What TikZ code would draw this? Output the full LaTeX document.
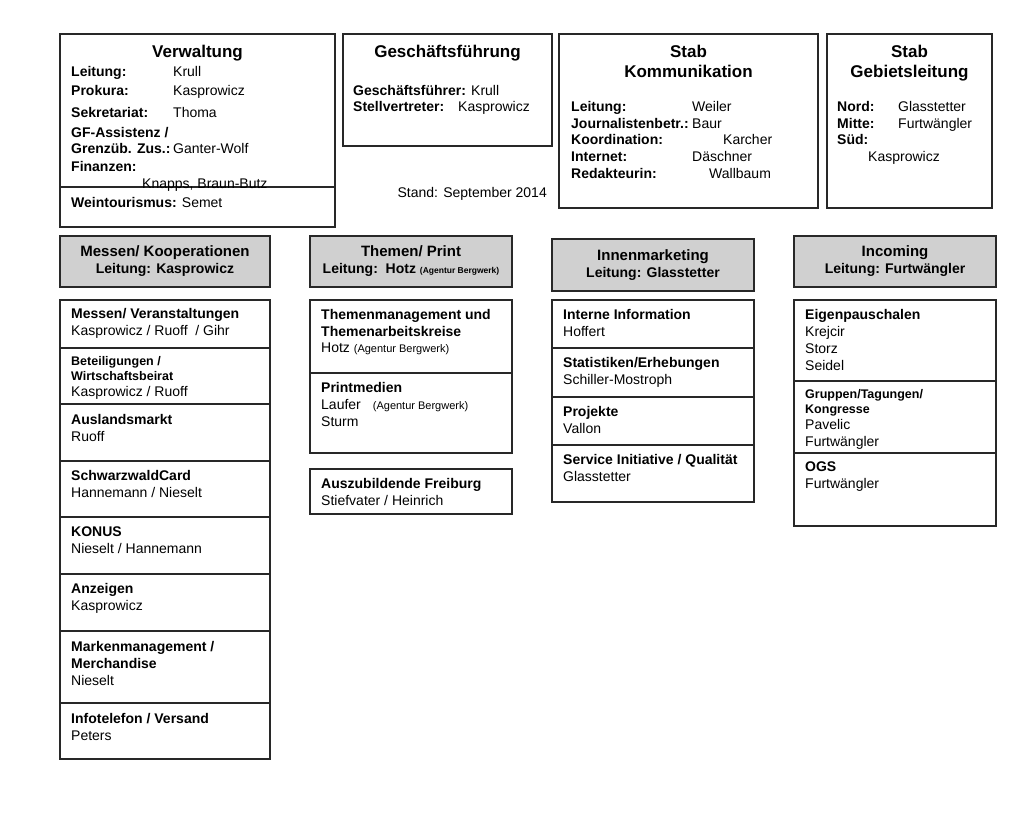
\documentclass[tikz,border=0pt]{standalone}
\usepackage{fontspec}
\setmainfont{Liberation Sans}
\usetikzlibrary{positioning}
\definecolor{headgray}{RGB}{208,208,208}
\definecolor{rulegray}{RGB}{40,40,40}
\newcommand\smallbf{\fontsize{12.5}{15}\selectfont\bfseries}
\newcommand\agentur{\fontsize{11}{13}\selectfont}
\tikzset{
  unitbox/.style={draw=rulegray,line width=1.3pt,anchor=north west,inner sep=0pt,outer sep=0pt,
    minimum width=#1},
  unitbox/.default=202pt,
  hdbox/.style={unitbox=#1,fill=headgray,line width=1.7pt,minimum height=51pt,align=center,
    font=\fontsize{14}{17}\selectfont\bfseries},
  hdbox/.default=202pt,
  txt/.style={inner sep=0pt,align=left,font=\fontsize{14}{17}\selectfont},
  ttl/.style={inner sep=0pt,align=center,font=\fontsize{17}{20}\selectfont\bfseries},
  celltxt/.style={txt,below right=9pt and 11pt of #1.north west},
}

\begin{document}
\begin{tikzpicture}[x=1pt,y=-1pt]
  \useasboundingbox (0,0) rectangle (1024,826);

  % top row
  \node[unitbox=275pt,minimum height=153pt] (vw) at (60,34) {};
  \node[unitbox=275pt,minimum height=40pt,below=0pt of vw] (vwl) {};
  \node[ttl,below=11pt of vw.north] (vwt) {Verwaltung};
  \node[txt,below right=32pt and 11pt of vw.north west] (vwb) {%
    \makebox[102pt][l]{\textbf{Leitung:}}Krull\\[2pt]
    \makebox[102pt][l]{\textbf{Prokura:}}Kasprowicz\\[5pt]
    \makebox[102pt][l]{\textbf{Sekretariat:}}Thoma\\[3pt]
    \textbf{GF-Assistenz /}\\[-1pt]
    \makebox[102pt][l]{\textbf{Grenzüb. Zus.:}}Ganter-Wolf\\[1pt]
    \textbf{Finanzen:}\\
    \hspace*{71pt}Knapps, Braun-Butz};
  \node[txt,below right=10pt and 11pt of vwl.north west] (vwlt) {\textbf{Weintourismus:} Semet};

  \node[unitbox=209pt,minimum height=112pt,line width=2.2pt] (gf) at (343,34) {};
  \node[ttl,below=11pt of gf.north] (gft) {Geschäftsführung};
  \node[txt,below right=51pt and 10pt of gf.north west] (gfb) {%
    \textbf{Geschäftsführer:} Krull\\[-1pt]
    \textbf{Stellvertreter:}\hspace{14pt}Kasprowicz};
  \node[txt,below left=41pt and 5pt of gf.south east] (stand) {Stand: September 2014};

  \node[unitbox=259pt,minimum height=174pt] (sk) at (559,34) {};
  \node[ttl,below=11pt of sk.north] (skt) {Stab\\Kommunikation};
  \node[txt,font=\fontsize{14}{16.7}\selectfont,below right=67pt and 12pt of sk.north west] (skb) {%
    \makebox[121pt][l]{\textbf{Leitung:}}Weiler\\
    \makebox[121pt][l]{\textbf{Journalistenbetr.:}}Baur\\
    \makebox[121pt][l]{\textbf{Koordination:}}\hspace*{31pt}Karcher\\
    \makebox[121pt][l]{\textbf{Internet:}}Däschner\\
    \makebox[121pt][l]{\textbf{Redakteurin:}}\hspace*{17pt}Wallbaum};

  \node[unitbox=165pt,minimum height=174pt] (sg) at (827,34) {};
  \node[ttl,below=11pt of sg.north] (sgt) {Stab\\Gebietsleitung};
  \node[txt,font=\fontsize{14}{16.7}\selectfont,below right=67pt and 10pt of sg.north west] (sgb) {%
    \makebox[61pt][l]{\textbf{Nord:}}Glasstetter\\
    \makebox[61pt][l]{\textbf{Mitte:}}Furtwängler\\
    \textbf{Süd:}\\
    \hspace*{31pt}Kasprowicz};

  % department headers
  \node[hdbox=210pt] (mk) at (60,236) {{\fontsize{15}{17}\selectfont Messen/ Kooperationen}\\Leitung: Kasprowicz};
  \node[hdbox] (tp) at (310,236) {{\fontsize{15}{17}\selectfont Themen/ Print}\\Leitung:\ \ Hotz {\fontsize{8.5}{10}\selectfont (Agentur Bergwerk)}};
  \node[hdbox,minimum height=52pt] (im) at (552,239) {{\fontsize{15}{17}\selectfont Innenmarketing}\\Leitung: Glasstetter};
  \node[hdbox] (ic) at (794,236) {{\fontsize{15}{17}\selectfont Incoming}\\Leitung: Furtwängler};

  % Messen/ Kooperationen
  \node[unitbox=210pt,minimum height=48pt] (m1) at (60,300) {};
  \node[unitbox=210pt,minimum height=56pt,below=0pt of m1] (m2) {};
  \node[unitbox=210pt,minimum height=57pt,below=0pt of m2] (m3) {};
  \node[unitbox=210pt,minimum height=56pt,below=0pt of m3] (m4) {};
  \node[unitbox=210pt,minimum height=57pt,below=0pt of m4] (m5) {};
  \node[unitbox=210pt,minimum height=57pt,below=0pt of m5] (m6) {};
  \node[unitbox=210pt,minimum height=72pt,below=0pt of m6] (m7) {};
  \node[unitbox=210pt,minimum height=56pt,below=0pt of m7] (m8) {};
  \node[celltxt=m1,yshift=1pt] (m1t) {\textbf{Messen/ Veranstaltungen}\\Kasprowicz / Ruoff \ / Gihr};
  \node[celltxt=m2,yshift=1pt] (m2t) {{\smallbf Beteiligungen /}\\[-2pt]{\smallbf Wirtschaftsbeirat}\\[-1pt]Kasprowicz / Ruoff};
  \node[celltxt=m3,yshift=-1pt] (m3t) {\textbf{Auslandsmarkt}\\Ruoff};
  \node[celltxt=m4] (m4t) {\textbf{SchwarzwaldCard}\\Hannemann / Nieselt};
  \node[celltxt=m5,yshift=-1pt] (m5t) {\textbf{KONUS}\\Nieselt / Hannemann};
  \node[celltxt=m6] (m6t) {\textbf{Anzeigen}\\Kasprowicz};
  \node[celltxt=m7,yshift=-1pt] (m7t) {\textbf{Markenmanagement /}\\\textbf{Merchandise}\\Nieselt};
  \node[celltxt=m8,yshift=-1pt] (m8t) {\textbf{Infotelefon / Versand}\\Peters};

  % Themen/ Print
  \node[unitbox,minimum height=73pt] (t1) at (310,300) {};
  \node[unitbox,minimum height=80pt,below=0pt of t1] (t2) {};
  \node[unitbox,minimum height=45pt] (t3) at (310,469) {};
  \node[celltxt=t1] (t1t) {\textbf{Themenmanagement und}\\\textbf{Themenarbeitskreise}\\[-1pt]Hotz {\agentur (Agentur Bergwerk)}};
  \node[celltxt=t2] (t2t) {\textbf{Printmedien}\\Laufer\hspace{12pt}{\agentur (Agentur Bergwerk)}\\Sturm};
  \node[celltxt=t3] (t3t) {\textbf{Auszubildende Freiburg}\\Stiefvater / Heinrich};

  % Innenmarketing
  \node[unitbox,minimum height=48pt] (i1) at (552,300) {};
  \node[unitbox,minimum height=49pt,below=0pt of i1] (i2) {};
  \node[unitbox,minimum height=48pt,below=0pt of i2] (i3) {};
  \node[unitbox,minimum height=57pt,below=0pt of i3] (i4) {};
  \node[celltxt=i1] (i1t) {\textbf{Interne Information}\\Hoffert};
  \node[celltxt=i2] (i2t) {\textbf{Statistiken/Erhebungen}\\Schiller-Mostroph};
  \node[celltxt=i3] (i3t) {\textbf{Projekte}\\Vallon};
  \node[celltxt=i4] (i4t) {\textbf{Service Initiative / Qualität}\\Glasstetter};

  % Incoming
  \node[unitbox,minimum height=81pt] (c1) at (794,300) {};
  \node[unitbox,minimum height=72pt,below=0pt of c1] (c2) {};
  \node[unitbox,minimum height=73pt,below=0pt of c2] (c3) {};
  \node[celltxt=c1] (c1t) {\textbf{Eigenpauschalen}\\Krejcir\\Storz\\Seidel};
  \node[celltxt=c2,yshift=1pt] (c2t) {{\smallbf Gruppen/Tagungen/}\\[-2pt]{\smallbf Kongresse}\\[-1pt]Pavelic\\Furtwängler};
  \node[celltxt=c3] (c3t) {\textbf{OGS}\\Furtwängler};
\end{tikzpicture}
\end{document}
